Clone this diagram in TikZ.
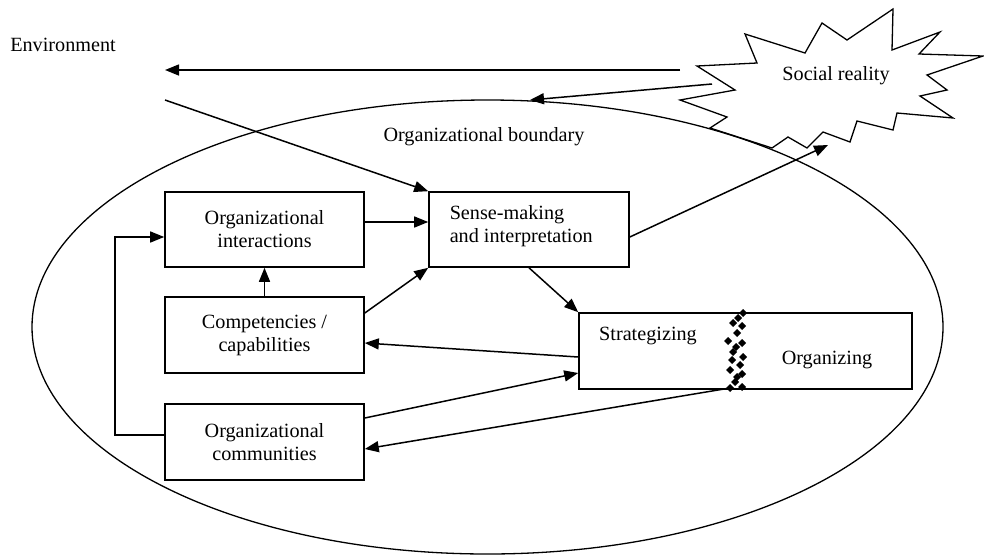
\documentclass[tikz,border=0pt]{standalone}
\usepackage{fontspec}
\setmainfont{Liberation Serif}
\usetikzlibrary{arrows.meta,calc}
\begin{document}
\begin{tikzpicture}[x=1pt,y=-1pt,
  line width=1.5pt,
  every node/.style={font=\fontsize{20.2}{23}\selectfont},
  box/.style={draw,line width=1.6pt,inner sep=0pt,align=center},
  arr/.style={-{Triangle[length=14pt,width=11pt]}},
  bit/.style={fill=black}]
\useasboundingbox (0,0) rectangle (984,555);
% boundary
\draw[line width=1.3pt] (487.5,327) ellipse [x radius=455.5pt, y radius=227pt];
% star
\draw[line width=1.3pt] (697,66) -- (757,63) -- (745,34) -- (805,53) -- (822,23) -- (847,40) -- (893,9) -- (892,50) -- (940,32) -- (919,54) -- (983,56) -- (927,75) -- (947,90) -- (920,96) -- (953,118) -- (897,113) -- (893,130) -- (857,121) -- (850,142) -- (823,132) -- (807,148) -- (788,137) -- (772,148) -- (710,128) -- (727,117) -- (680,100) -- (735,90) -- cycle;
\node (social) at (836,76) {Social reality};
\node (env) at (63,45) {Environment};
\node (bound) at (484,137) {Organizational boundary};
% boxes
\node[box,minimum width=199pt,minimum height=75pt] (ints) at (264.5,229.5) {Organizational\\interactions};
\node[box,minimum width=199pt,minimum height=76pt] (comp) at (264.5,335) {Competencies /\\capabilities};
\node[box,minimum width=199pt,minimum height=76pt] (comm) at (264.5,442) {Organizational\\communities};
\node[box,minimum width=200pt,minimum height=75pt] (sense) at (529,229.5) {};
\node[anchor=west,align=left,inner sep=0pt] (sensetxt) at (449,226) {Sense-making\\and interpretation};
\node[box,minimum width=333pt,minimum height=76pt] (strat) at (745.5,351) {};
\node (strattxt) at (648,336) {Strategizing};
\node (orgtxt) at (827,360) {Organizing};
% zigzag seam
\foreach \p in {(743,313),(733,323),(742,326),(737,333),(728,341),(742,343),(733,352),(743,357),(732,360),(740,365),(730,370),(742,374),(735,382),(730,388),(742,387),(738,318),(736,347),(737,377)}
  \fill[bit] \p ++(-4,0) -- ++(4,-4) -- ++(4,4) -- ++(-4,4) -- cycle;
% coordinates
\coordinate (envL) at (165,70);
\coordinate (starL) at (680,70);
\coordinate (starA) at (712,84);
\coordinate (ellTop) at (530,100);
\coordinate (envB) at (165,100);
\coordinate (starB) at (828,145);
\coordinate (seam) at (730,388);
% connectors
\draw[arr] (starL) -- (envL);
\draw[arr] (starA) -- (ellTop);
\draw[arr] (envB) -- (sense.north west);
\draw[arr] ([yshift=-7.5pt]sense.east) -- (starB);
\draw[arr] ([yshift=7.5pt]ints.east) -- ([yshift=7.5pt]sense.west);
\draw[arr] (comp.north) -- (ints.south);
\draw[arr] ([yshift=22pt]comp.east) -- (sense.south west);
\draw[arr] (sense.south) -- (strat.north west);
\draw[arr] ([yshift=-6pt]strat.west) -- ([yshift=-8pt]comp.east);
\draw[arr] ([yshift=24pt]comm.east) -- ([yshift=-22pt]strat.west);
\draw[arr] (seam) -- ([yshift=-7pt]comm.east);
\draw[arr] ([yshift=7pt]comm.west) -- ++(-49,0) |- ([yshift=-7.5pt]ints.west);
\end{tikzpicture}
\end{document}
